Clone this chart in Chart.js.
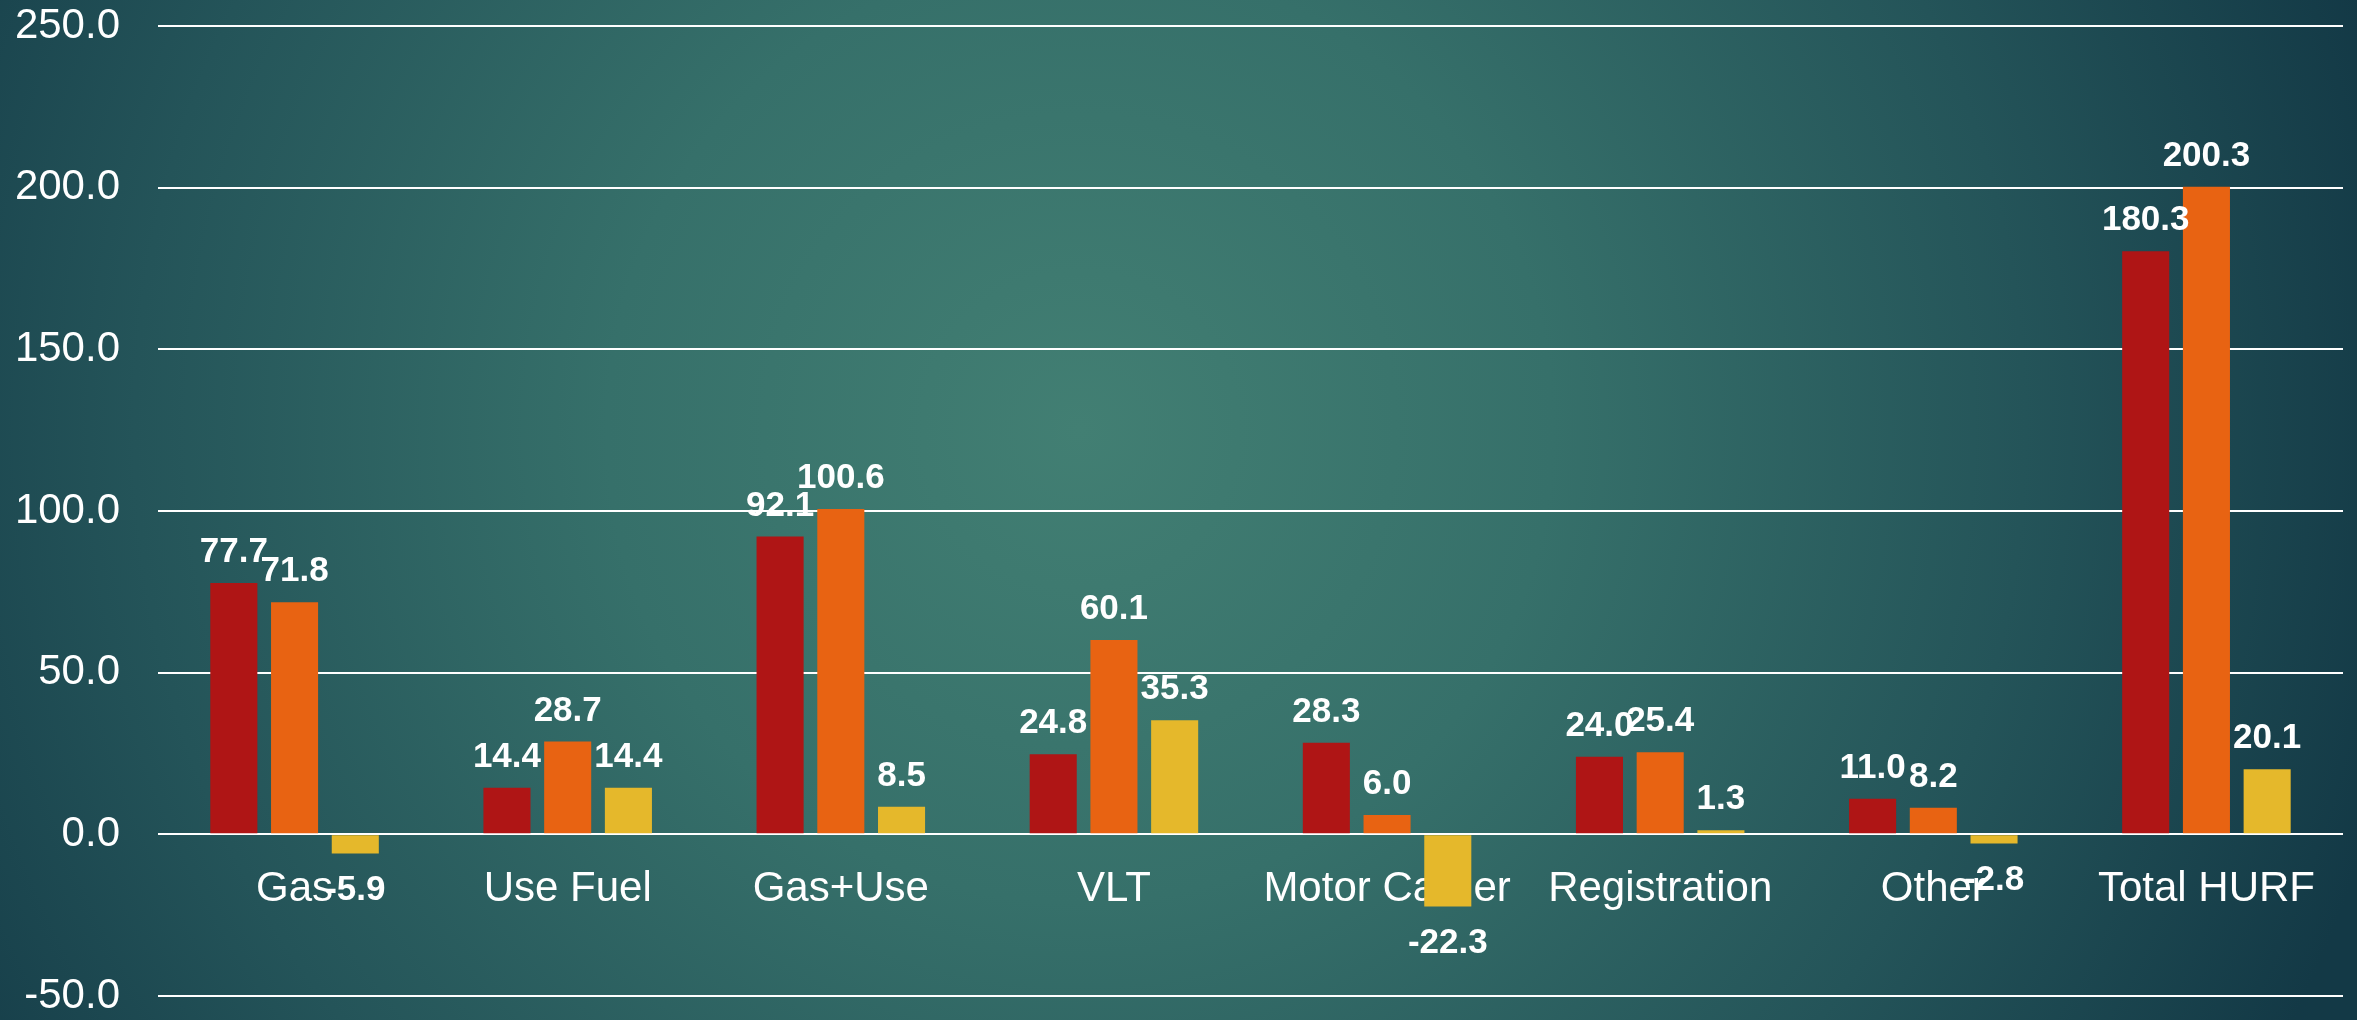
<!DOCTYPE html>
<html>
<head>
<meta charset="utf-8">
<script src="https://cdn.jsdelivr.net/npm/chart.js@4/dist/chart.umd.min.js"></script>
<style>
html,body{margin:0;padding:0;background:#1f4d55;}
#wrap{width:2357px;height:1020px;position:relative;}
canvas{display:block;}
</style>
</head>
<body>
<div id="wrap"><canvas id="c" width="2357" height="1020"></canvas></div>
<script>
const categories = ["Gas", "Use Fuel", "Gas+Use", "VLT", "Motor Carrier", "Registration", "Other", "Total HURF"];
const series1 = [77.7, 14.4, 92.1, 24.8, 28.3, 24.0, 11.0, 180.3];
const series2 = [71.8, 28.7, 100.6, 60.1, 6.0, 25.4, 8.2, 200.3];
const series3 = [-5.9, 14.4, 8.5, 35.3, -22.3, 1.3, -2.8, 20.1];
const seriesNames = ["Series 1", "Series 2", "Series 3"];
const seriesColors = ["#af1515", "#e86312", "#e5b82b"];
const yMin = -50, yMax = 250, yStep = 50;

const FONT = "'Liberation Sans', Arial, sans-serif";

const bgPlugin = {
  id: 'bg',
  beforeDraw(chart) {
    const ctx = chart.ctx;
    const w = chart.width, h = chart.height;
    ctx.save();
    const g = ctx.createRadialGradient(1080, 430, 0, 1080, 430, 1350);
    g.addColorStop(0, '#427f73');
    g.addColorStop(0.35, '#36706a');
    g.addColorStop(0.7, '#245459');
    g.addColorStop(1, '#133946');
    ctx.fillStyle = g;
    ctx.fillRect(0, 0, w, h);
    ctx.restore();
  }
};

const labelPlugin = {
  id: 'valueLabels',
  afterDatasetsDraw(chart) {
    const ctx = chart.ctx;
    ctx.save();
    ctx.fillStyle = '#ffffff';
    ctx.font = "bold 35px " + FONT;
    ctx.textAlign = 'center';
    ctx.textBaseline = 'alphabetic';
    chart.data.datasets.forEach((ds, di) => {
      const meta = chart.getDatasetMeta(di);
      meta.data.forEach((bar, i) => {
        const v = ds.data[i];
        const txt = v.toFixed(1);
        if (v >= 0) {
          ctx.fillText(txt, bar.x, bar.y - 21);
        } else {
          ctx.fillText(txt, bar.x, bar.y + 22 + 25);
        }
      });
    });
    ctx.restore();
  }
};

new Chart(document.getElementById('c'), {
  type: 'bar',
  data: {
    labels: categories,
    datasets: [series1, series2, series3].map((d, i) => ({
      label: seriesNames[i],
      data: d,
      backgroundColor: seriesColors[i],
      borderWidth: 0,
      categoryPercentage: 0.667,
      barPercentage: 0.775
    }))
  },
  options: {
    responsive: false,
    animation: false,
    devicePixelRatio: 1,
    layout: { padding: { top: 26, bottom: 24, left: 0, right: 14 } },
    plugins: {
      legend: { display: false },
      tooltip: { enabled: false }
    },
    scales: {
      x: {
        position: { y: 0 },
        afterFit(scale) { scale.height = 0; },
        grid: { display: false, drawTicks: false },
        border: { display: false },
        ticks: {
          color: '#ffffff',
          font: { family: FONT, size: 42 },
          padding: 30,
          maxRotation: 0,
          autoSkip: false
        }
      },
      y: {
        min: yMin,
        max: yMax,
        afterFit(scale) { scale.width = 158; scale.paddingTop = 0; scale.paddingBottom = 0; },
        grid: { color: '#ffffff', lineWidth: 2, drawTicks: false },
        border: { display: false },
        ticks: {
          stepSize: yStep,
          color: '#ffffff',
          font: { family: FONT, size: 42 },
          padding: 38,
          callback: (v) => Number(v).toFixed(1)
        }
      }
    }
  },
  plugins: [bgPlugin, labelPlugin]
});
</script>
</body>
</html>
